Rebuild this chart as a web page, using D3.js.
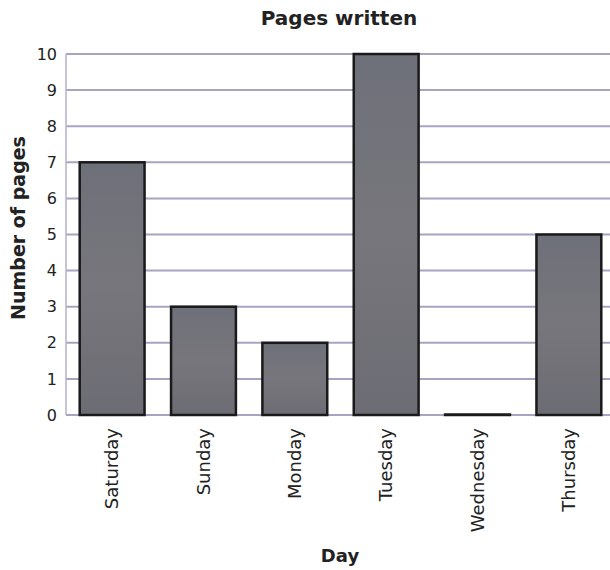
<!DOCTYPE html>
<html>
<head>
<meta charset="utf-8">
<script src="https://cdn.jsdelivr.net/npm/d3@7"></script>
<style>
  body { margin: 0; background: #fff; }
  text { font-family: "DejaVu Sans", Verdana, sans-serif; fill: #222; }
</style>
</head>
<body>
<script>
var width = 610
var height = 570

// data
var days = ["Saturday", "Sunday", "Monday", "Tuesday", "Wednesday", "Thursday"];
var pages = [7, 3, 2, 10, 0, 5];
var yTicks = [0, 1, 2, 3, 4, 5, 6, 7, 8, 9, 10];

var svg = d3.select("body").append("svg")
    .attr("width", width)
    .attr("height", height)

var x = d3.scaleBand()
    .domain(days)
    .range([66, 615])
    .paddingInner(0.29)
    .paddingOuter(0.15)

var y = d3.scaleLinear()
    .domain([0, 10])
    .range([415, 54])

// gradient for the bars
var grad = svg.append("defs").append("linearGradient")
    .attr("id", "bar-grad")
    .attr("x1", "0").attr("y1", "0").attr("x2", "0").attr("y2", "1")
grad.append("stop").attr("offset", "0%").attr("stop-color", "#6e7079")
grad.append("stop").attr("offset", "50%").attr("stop-color", "#77767c")
grad.append("stop").attr("offset", "100%").attr("stop-color", "#6c6c74")

// grid lines
svg.append("g").selectAll("line")
    .data(yTicks)
    .join("line")
    .attr("x1", 66)
    .attr("x2", width)
    .attr("y1", d => y(d))
    .attr("y2", d => y(d))
    .attr("stroke", "#a7a3c2")
    .attr("stroke-width", 2)

// left axis line
svg.append("line")
    .attr("x1", 66).attr("x2", 66)
    .attr("y1", y(10)).attr("y2", y(0))
    .attr("stroke", "#b4b0cc")
    .attr("stroke-width", 1.5)

// y tick labels
svg.append("g").selectAll("text")
    .data(yTicks)
    .join("text")
    .attr("x", 57)
    .attr("y", d => y(d))
    .attr("dy", "0.35em")
    .attr("text-anchor", "end")
    .style("font-size", "16px")
    .text(d => d)

// bars (zero values still show a thin outline)
svg.append("g").selectAll("rect")
    .data(pages)
    .join("rect")
    .attr("x", (d, i) => x(days[i]))
    .attr("y", d => Math.min(y(d), y(0) - 0.5))
    .attr("width", x.bandwidth())
    .attr("height", d => Math.max(y(0) - y(d), 0.5))
    .attr("fill", "url(#bar-grad)")
    .attr("stroke", "#1a1a1a")
    .attr("stroke-width", 2.5)

// x tick labels
svg.append("g").selectAll("text")
    .data(days)
    .join("text")
    .attr("transform", d => "translate(" + (x(d) + x.bandwidth() / 2) + ",428) rotate(-90)")
    .attr("dy", "0.35em")
    .attr("text-anchor", "end")
    .style("font-size", "18px")
    .text(d => d)

// title
svg.append("text")
    .attr("x", 339)
    .attr("y", 25)
    .attr("text-anchor", "middle")
    .style("font-size", "20px")
    .style("font-weight", "bold")
    .text("Pages written")

// axis titles
svg.append("text")
    .attr("transform", "translate(25,228) rotate(-90)")
    .attr("text-anchor", "middle")
    .style("font-size", "19px")
    .style("font-weight", "bold")
    .text("Number of pages")

svg.append("text")
    .attr("x", 340)
    .attr("y", 562)
    .attr("text-anchor", "middle")
    .style("font-size", "18px")
    .style("font-weight", "bold")
    .text("Day")
</script>
</body>
</html>
